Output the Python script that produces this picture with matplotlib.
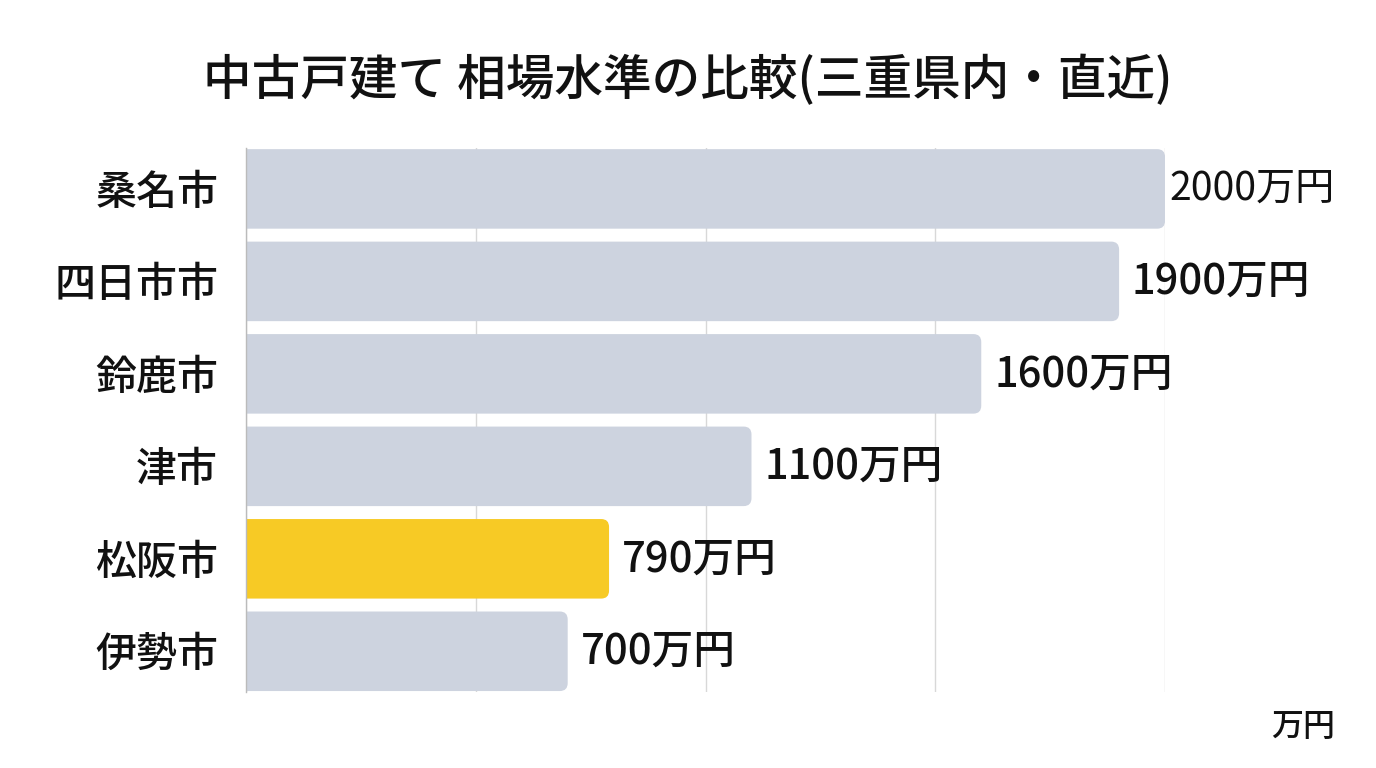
from matplotlib import pyplot as plt
from matplotlib.patches import FancyBboxPatch

plt.rcParams['font.family'] = ['Noto Sans CJK JP', 'DejaVu Sans']

cities = ['桑名市', '四日市市', '鈴鹿市', '津市', '松阪市', '伊勢市']
prices = [2000, 1900, 1600, 1100, 790, 700]
highlight = '松阪市'

GREY = '#CDD3DF'
YELLOW = '#F7CA25'

fig = plt.figure(figsize=(13.76, 7.68), dpi=100)
ax = fig.add_axes([0.1788, 0.099, 0.8467 - 0.1788, 0.807 - 0.099])

colors = [YELLOW if c == highlight else GREY for c in cities]
bars = ax.barh(range(len(cities)), prices, height=0.86, color=colors, zorder=2)

# swap plain bars for rounded ones (left corners hidden behind the spine)
rx = 17
ry = 0.086
for b in bars:
    x0, y0 = b.get_x(), b.get_y()
    w, h = b.get_width(), b.get_height()
    p = FancyBboxPatch((x0 - rx, y0), w + rx, h,
                       boxstyle=f'round,pad=0,rounding_size={rx}',
                       mutation_aspect=ry / rx,
                       facecolor=b.get_facecolor(), edgecolor='none', zorder=2)
    ax.add_patch(p)
    b.remove()

ax.set_xlim(0, 2000)
ax.set_ylim(len(cities) - 0.56, -0.44)

labels = []
for i, v in enumerate(prices):
    t = ax.text(v + 28, i, f'{v}万円', va='center', ha='left', fontsize=30,
                fontweight='medium', color='#111111', clip_on=False)
    labels.append(t)

# shrink any value label that would run past the right margin
fig.canvas.draw()
r = fig.canvas.get_renderer()
limit = 1338
for t in labels:
    bb = t.get_window_extent(r)
    if bb.x1 > limit:
        x, y = t.get_position()
        t.set_position((x - 18, y))
        t.set_fontsize(30 * (limit - bb.x0 + 8) / bb.width)
        t.set_fontweight('normal')

ax.set_yticks(range(len(cities)))
ax.set_yticklabels(cities, fontsize=29.5, fontweight='medium', color='#111111')
ax.tick_params(axis='y', length=0, pad=20)
ax.set_xticks([0, 500, 1000, 1500, 2000])
ax.tick_params(axis='x', length=0, labelbottom=False)
ax.grid(axis='x', color='#D8D8D8', linewidth=1, zorder=0)

for s in ['top', 'right', 'bottom']:
    ax.spines[s].set_visible(False)
ax.spines['left'].set_color('#BBBBBB')
ax.spines['left'].set_linewidth(1)

fig.text(1335 / 1376, 1 - 727 / 768, '万円', ha='right', va='center', fontsize=23,
         fontweight='medium', color='#111111')
fig.text(688 / 1376, 1 - 80 / 768, '中古戸建て 相場水準の比較(三重県内・直近)', ha='center', va='center',
         fontsize=35, fontweight='medium', color='#111111')

plt.savefig('out.png', dpi=100)
